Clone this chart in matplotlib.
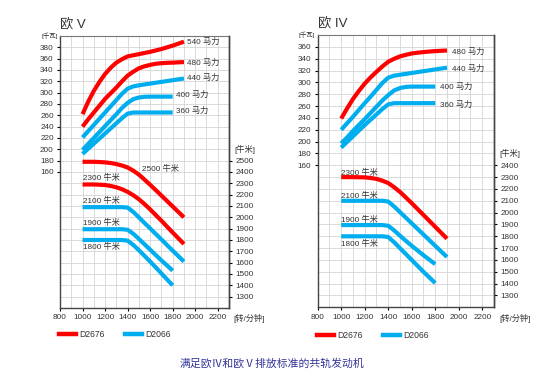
import matplotlib
matplotlib.use('Agg')
import matplotlib.pyplot as plt
from matplotlib.lines import Line2D
import numpy as np

plt.rcParams['font.family'] = ['Liberation Sans', 'Noto Sans CJK SC']

RED = '#ff0000'
BLUE = '#00aeef'
TXT = '#333333'

# rpm points
rpm = [1000, 1050, 1100, 1150, 1200, 1250, 1300, 1350, 1400, 1450,
       1500, 1550, 1600, 1650, 1700, 1750, 1800, 1850, 1900]
rpm_short = rpm[:17]

# Euro V - power [kW]
e5_p540 = [262, 284, 303, 319, 333, 344, 353, 359, 364, 366,
           368, 370, 372, 374.5, 377, 380, 383, 386.5, 390]
e5_p480 = [240, 253, 265, 277, 289, 299, 309, 320, 330, 337,
           343, 346.5, 349, 351, 352, 352.7, 353, 353.5, 354]
e5_p440 = [221, 232, 243, 254, 265, 276, 287, 298, 307, 311,
           313, 314.5, 316, 317.5, 319, 320.5, 322, 323.5, 325]
e5_p400 = [199, 209.5, 220, 230.5, 241, 251.5, 262, 273, 282, 288.5,
           291.5, 292.7, 293, 293, 293, 293, 293]
e5_p360 = [192, 201, 210, 219, 228, 237, 246, 255, 263, 265,
           265, 265, 265, 265, 265, 265, 265]
# Euro V - torque [Nm]
e5_t2500 = [2490, 2490, 2490, 2488, 2485, 2479, 2470, 2457, 2440, 2412,
            2377, 2333, 2287, 2240, 2192, 2144, 2096, 2048, 2000]
e5_t2300 = [2290, 2290, 2290, 2288, 2285, 2277, 2265, 2248, 2225, 2195,
            2160, 2117, 2070, 2020, 1970, 1918, 1866, 1815, 1765]
e5_t2100 = [2090, 2090, 2090, 2090, 2090, 2090, 2090, 2090, 2086, 2048,
            2000, 1950, 1902, 1853, 1805, 1755, 1706, 1658, 1610]
e5_t1900 = [1895, 1895, 1895, 1895, 1895, 1895, 1895, 1895, 1890, 1855,
            1810, 1762, 1715, 1667, 1620, 1575, 1530]
e5_t1800 = [1800, 1800, 1800, 1800, 1800, 1800, 1800, 1800, 1794, 1757,
            1710, 1660, 1610, 1558, 1505, 1452, 1400]

# Euro IV - power [kW]
e4_p480 = [239, 256, 272, 285.5, 298, 308.5, 318, 327, 335, 340,
           344, 346.7, 349, 350.3, 351.3, 352.2, 353, 353.5, 354]
e4_p440 = [220, 231, 242, 253.5, 265, 276, 287.5, 299, 308, 311.5,
           313, 314.5, 316, 317.5, 319, 320.5, 322, 323.5, 325]
e4_p400 = [197, 207, 218, 228, 238, 248.5, 259, 269.5, 278.5, 286.5,
           290.5, 292.5, 293, 293, 293, 293, 293]
e4_p360 = [190, 199.5, 209, 218.5, 228, 237, 246, 255, 263, 265,
           265, 265, 265, 265, 265, 265, 265]
# Euro IV - torque [Nm]
e4_t2300 = [2300, 2300, 2300, 2299, 2298, 2293, 2285, 2270, 2250, 2215,
            2175, 2128, 2080, 2030, 1980, 1930, 1880, 1830, 1780]
e4_t2100 = [2100, 2100, 2100, 2100, 2100, 2100, 2100, 2100, 2094, 2052,
            2005, 1957, 1910, 1862, 1815, 1767, 1720, 1672, 1625]
e4_t1900 = [1895, 1895, 1895, 1895, 1895, 1895, 1895, 1895, 1889, 1850,
            1805, 1762, 1720, 1680, 1640, 1602, 1565]
e4_t1800 = [1800, 1800, 1800, 1800, 1800, 1800, 1800, 1800, 1794, 1750,
            1700, 1650, 1600, 1550, 1500, 1452, 1405]

x_ticks = [800, 1000, 1200, 1400, 1600, 1800, 2000, 2200]
models = ['D2676', 'D2066']

LW = 3.0


def panel(rect, title, kw_lim, nm_lim, kw_ticks, nm_ticks, power, torque,
          p_labels, t_labels, nm_unit_y, leg_anchor):
    ax = fig.add_axes(rect)
    ax.set_xlim(800, 2300)
    ax.set_ylim(*kw_lim)
    ax.set_xticks(x_ticks)
    ax.set_xticks(np.arange(800, 2301, 100), minor=True)
    ax.set_yticks(kw_ticks)
    ax.set_yticks(np.arange(kw_lim[0], kw_lim[1] + 1, 20), minor=True)
    ax.grid(True, which='both', color='#d4d4d4', linewidth=0.6)
    ax.set_axisbelow(True)
    ax.tick_params(which='minor', length=0)
    ax.tick_params(which='major', length=2.5, width=0.8, labelsize=5.9,
                   labelcolor=TXT, pad=2)
    for s in ax.spines.values():
        s.set_color('#444444')
        s.set_linewidth(1.0)
    ax.spines['top'].set_color('#777777')
    ax.spines['top'].set_linewidth(0.8)

    ax2 = ax.twinx()
    ax2.set_ylim(*nm_lim)
    ax2.set_yticks(nm_ticks)
    ax2.tick_params(length=2.5, width=0.8, labelsize=5.9, labelcolor=TXT, pad=2)
    for k in ['top', 'left', 'bottom']:
        ax2.spines[k].set_visible(False)
    ax2.spines['right'].set_color('#444444')
    ax2.spines['right'].set_linewidth(1.0)

    for xs, ys, c in power:
        ax.plot(xs, ys, color=c, linewidth=LW, solid_capstyle='butt',
                solid_joinstyle='round')
    for xs, ys, c in torque:
        ax2.plot(xs, ys, color=c, linewidth=LW, solid_capstyle='butt',
                 solid_joinstyle='round')

    for x, y, t in p_labels:
        ax.text(x, y, t, fontsize=5.9, color=TXT, ha='left', va='center')
    for x, y, t in t_labels:
        ax2.text(x, y, t, fontsize=5.9, color=TXT, ha='left', va='center')

    ax.text(-0.015, 1.0, '[千瓦]', transform=ax.transAxes, fontsize=4.6,
            color=TXT, ha='right', va='center')
    ax2.text(1.03, nm_unit_y, '[牛米]', transform=ax2.get_yaxis_transform(),
             fontsize=5.9, color=TXT, ha='left', va='center')
    ax.text(2475, -0.04, '[转/分钟]', transform=ax.get_xaxis_transform(),
            fontsize=5.9, color=TXT, ha='center', va='center')
    ax.text(0.0, 1.045, title, transform=ax.transAxes, fontsize=9.5,
            color=TXT, ha='left', va='center')

    handles = [Line2D([], [], color=RED, linewidth=3.2),
               Line2D([], [], color=BLUE, linewidth=3.2)]
    ax.legend(handles, models, loc='center left', bbox_to_anchor=leg_anchor,
              ncol=2, frameon=False, fontsize=6.2, handlelength=2.0,
              handletextpad=0.35, columnspacing=2.4, borderpad=0,
              borderaxespad=0, labelcolor=TXT)
    return ax, ax2


fig = plt.figure(figsize=(5.5, 3.85), dpi=100)

panel([0.1091, 0.2, 0.3073, 0.7065], '欧 V', (-80, 400), (1200, 3600),
      np.arange(160, 381, 20), np.arange(1300, 2501, 100),
      [(rpm, e5_p540, RED), (rpm, e5_p480, RED), (rpm, e5_p440, BLUE),
       (rpm_short, e5_p400, BLUE), (rpm_short, e5_p360, BLUE)],
      [(rpm, e5_t2500, RED), (rpm, e5_t2300, RED), (rpm, e5_t2100, BLUE),
       (rpm_short, e5_t1900, BLUE), (rpm_short, e5_t1800, BLUE)],
      [(1930, 389, '540 马力'), (1930, 352, '480 马力'), (1930, 327, '440 马力'),
       (1829, 296, '400 马力'), (1829, 268, '360 马力')],
      [(1525, 2426, '2500 牛米'), (1005, 2344, '2300 牛米'),
       (1005, 2144, '2100 牛米'), (1005, 1947, '1900 牛米'),
       (1005, 1735, '1800 牛米')],
      2600, (-0.006, -0.099))

panel([0.5776, 0.2018, 0.3206, 0.707], '欧 IV', (-80, 380), (1200, 3500),
      np.arange(160, 361, 20), np.arange(1300, 2401, 100),
      [(rpm, e4_p480, RED), (rpm, e4_p440, BLUE),
       (rpm_short, e4_p400, BLUE), (rpm_short, e4_p360, BLUE)],
      [(rpm, e4_t2300, RED), (rpm, e4_t2100, BLUE),
       (rpm_short, e4_t1900, BLUE), (rpm_short, e4_t1800, BLUE)],
      [(1940, 352, '480 马力'), (1940, 323, '440 马力'),
       (1842, 292, '400 马力'), (1842, 263, '360 马力')],
      [(1000, 2336, '2300 牛米'), (1000, 2139, '2100 牛米'),
       (1000, 1936, '1900 牛米'), (1000, 1731, '1800 牛米')],
      2500, (-0.004, -0.102))

fig.text(0.495, 0.057, '满足欧Ⅳ和欧Ⅴ排放标准的共轨发动机', fontsize=7.8,
         color='#333399', ha='center', va='center',
         family=['Noto Sans CJK SC', 'DejaVu Sans'])

fig.savefig('out.png', dpi=100)
